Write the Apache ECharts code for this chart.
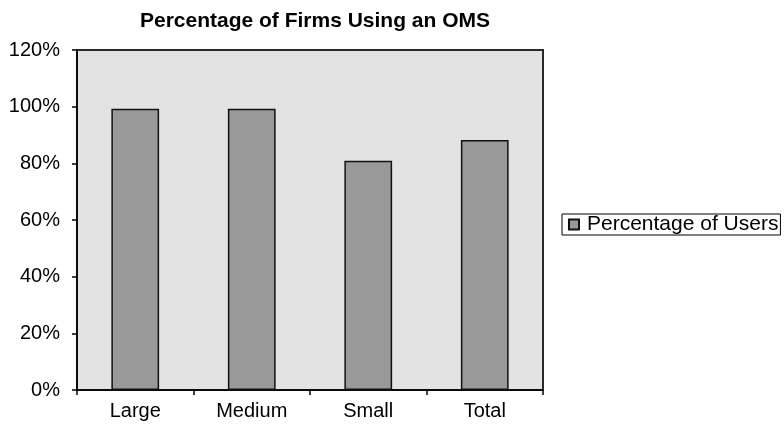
<!DOCTYPE html>
<html>
<head>
<meta charset="utf-8">
<script src="https://cdn.jsdelivr.net/npm/echarts@6/dist/echarts.min.js"></script>
<style>
  html, body { margin: 0; padding: 0; background: #ffffff; }
  #chart { width: 784px; height: 426px; }
</style>
</head>
<body>
<div id="chart"></div>
<script>
// Firm size categories and share of firms using an order management system
const categories = ['Large', 'Medium', 'Small', 'Total'];
const percentUsers = [99.3, 99.3, 80.9, 88.2];
const yTicks = [0, 20, 40, 60, 80, 100, 120];

const FONT = '"Liberation Sans", Arial, Helvetica, sans-serif';

const chart = echarts.init(document.getElementById('chart'), null, { renderer: 'canvas' });

chart.setOption({
  animation: false,
  backgroundColor: '#ffffff',
  title: {
    text: 'Percentage of Firms Using an OMS',
    left: 310,
    textAlign: 'center',
    top: 6,
    textStyle: { fontFamily: FONT, fontSize: 21, fontWeight: 'bold', color: '#000000' }
  },
  legend: {
    data: ['Percentage of Users'],
    left: 562,
    top: 214,
    orient: 'vertical',
    icon: 'rect',
    itemWidth: 10,
    itemHeight: 10,
    itemGap: 0,
    padding: [0, 2, 0, 6],
    borderColor: '#000000',
    borderWidth: 1,
    textStyle: { fontFamily: FONT, fontSize: 21, lineHeight: 21, color: '#000000', padding: [0, 0, 0, 3] }
  },
  grid: {
    left: 77,
    right: 241,
    top: 50,
    bottom: 36,
    show: true,
    backgroundColor: '#e3e3e3',
    borderColor: '#2a2a2a',
    borderWidth: 2
  },
  xAxis: {
    type: 'category',
    data: categories,
    axisLine: { show: true, lineStyle: { color: '#000000', width: 1.5 } },
    axisTick: { show: true, length: 5, inside: false, lineStyle: { color: '#000000', width: 1.5 } },
    axisLabel: { fontFamily: FONT, fontSize: 20, color: '#000000', margin: 11 },
    splitLine: { show: false }
  },
  yAxis: {
    type: 'value',
    min: yTicks[0],
    max: yTicks[yTicks.length - 1],
    interval: 20,
    axisLine: { show: true, lineStyle: { color: '#000000', width: 1.5 } },
    axisTick: { show: true, length: 5, lineStyle: { color: '#000000', width: 1.5 } },
    axisLabel: { fontFamily: FONT, fontSize: 20, color: '#000000', margin: 17, formatter: '{value}%' },
    splitLine: { show: false }
  },
  series: [{
    name: 'Percentage of Users',
    type: 'bar',
    data: percentUsers,
    barCategoryGap: '59%',
    itemStyle: { color: '#999999', borderColor: '#111111', borderWidth: 1.5 }
  }]
});
</script>
</body>
</html>
